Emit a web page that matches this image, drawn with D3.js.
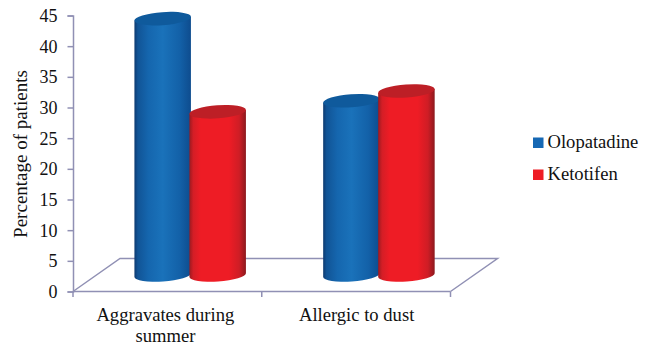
<!DOCTYPE html>
<html>
<head>
<meta charset="utf-8">
<script src="https://cdn.jsdelivr.net/npm/d3@7"></script>
<style>
  html, body { margin: 0; padding: 0; background: #fff; }
  text { font-family: "Liberation Serif", "Times New Roman", serif; fill: #111; }
</style>
</head>
<body>
<div id="chart"></div>
<script>
const categories = ['Aggravates during summer', 'Allergic to dust'];
const seriesNames = ['Olopatadine', 'Ketotifen'];
const olopatadine = [41.8, 28.4];
const ketotifen = [26.6, 30.0];
const yTicks = [0, 5, 10, 15, 20, 25, 30, 35, 40, 45];

const WIDTH = 652, HEIGHT = 348;
const AXIS = { left: 73, right: 450.5, top: 15.5, bottom: 291.5 };
const DEPTH_X = 47, DEPTH_Y = 33;   // floor offset of the back edge
const CYL_W = 56.5, CYL_GAP = 55, CYL_RY = 6.5, TILT = 4 * Math.PI / 180;
const AXIS_COLOR = '#9090b4';

const svg = d3.select('#chart').append('svg')
  .attr('width', WIDTH)
  .attr('height', HEIGHT)
  .style('display', 'block');

const defs = svg.append('defs');
function addGradient(id, stops) {
  const g = defs.append('linearGradient').attr('id', id);
  stops.forEach(s => g.append('stop').attr('offset', s[0]).attr('stop-color', s[1]));
}
addGradient('grad-0', [[0, '#0d3a70'], [0.06, '#115496'], [0.25, '#1566ae'], [0.5, '#1a72ba'], [0.8, '#1361a8'], [1, '#0e4c8e']]);
addGradient('grad-1', [[0, '#9c1a20'], [0.07, '#d41e26'], [0.2, '#ee1c25'], [0.7, '#ee1c25'], [0.88, '#cf1d25'], [1, '#8c191e']]);
const topColors = ['#0f5a9c', '#bd1f26'];
const legendColors = ['#1668b4', '#ee1c25'];

const x0 = d3.scaleBand().domain(categories).range([AXIS.left, AXIS.right]);
const x1 = d3.scaleBand().domain(seriesNames).range([-CYL_GAP, CYL_GAP]);
const y = d3.scaleLinear().domain([0, 45]).range([AXIS.bottom, AXIS.top]);

// floor
svg.append('path')
  .attr('d', `M${AXIS.left},${AXIS.bottom} L${AXIS.left + DEPTH_X},${AXIS.bottom - DEPTH_Y} L${AXIS.right + DEPTH_X},${AXIS.bottom - DEPTH_Y} L${AXIS.right},${AXIS.bottom}`)
  .attr('fill', 'none')
  .attr('stroke', AXIS_COLOR)
  .attr('stroke-width', 1.5);

// axes
const yAxis = d3.axisLeft(y).tickValues(yTicks).tickSize(5.5).tickPadding(10);
const yG = svg.append('g').attr('transform', `translate(${AXIS.left},0)`).call(yAxis);
yG.selectAll('text').style('font-size', '18px').attr('dy', '0.34em');

const xG = svg.append('g').attr('transform', `translate(0,${AXIS.bottom})`);
xG.append('line')
  .attr('x1', AXIS.left).attr('x2', AXIS.right)
  .attr('stroke', AXIS_COLOR);
xG.selectAll('.cat-tick')
  .data([AXIS.left, x0(categories[1]), AXIS.right])
  .enter().append('line')
  .attr('class', 'cat-tick')
  .attr('x1', d => d).attr('x2', d => d)
  .attr('y1', 0).attr('y2', 5.5)
  .attr('stroke', AXIS_COLOR);

svg.selectAll('.domain, .tick line').attr('stroke', AXIS_COLOR).attr('stroke-width', 1.5);
xG.selectAll('line').attr('stroke-width', 1.5);

// cylinders
function cylinderBody(cx, yTop, yBase) {
  const dx = CYL_W / 2;
  const dy = Math.tan(TILT) * dx;
  return `M${cx - dx},${yTop + dy} L${cx - dx},${yBase + dy}`
    + ` A${dx},${CYL_RY} ${-TILT * 180 / Math.PI} 0 0 ${cx + dx},${yBase - dy}`
    + ` L${cx + dx},${yTop - dy} Z`;
}
function cylinderTop(cx, yTop) {
  const dx = CYL_W / 2;
  const dy = Math.tan(TILT) * dx;
  return `M${cx - dx},${yTop + dy}`
    + ` A${dx},${CYL_RY} ${-TILT * 180 / Math.PI} 1 1 ${cx + dx},${yTop - dy}`
    + ` A${dx},${CYL_RY} ${-TILT * 180 / Math.PI} 1 1 ${cx - dx},${yTop + dy} Z`;
}

const floorShift = { x: DEPTH_X / 2 - 0.7, y: -DEPTH_Y / 2 };
[olopatadine, ketotifen].forEach((values, s) => {
  values.forEach((v, i) => {
    const cx = x0(categories[i]) + x0.bandwidth() / 2 + x1(seriesNames[s]) + x1.bandwidth() / 2 + floorShift.x;
    const yTop = y(v) + floorShift.y;
    const yBase = y(0) + floorShift.y;
    svg.append('path').attr('d', cylinderBody(cx, yTop, yBase)).attr('fill', `url(#grad-${s})`);
    svg.append('path').attr('d', cylinderTop(cx, yTop)).attr('fill', topColors[s]);
  });
});

// category labels
const catLines = [['Aggravates during', 'summer'], ['Allergic to dust']];
categories.forEach((c, i) => {
  const lx = x0(c) + x0.bandwidth() / 2 - (i === 0 ? 2 : -0.5);
  const t = svg.append('text')
    .attr('x', lx)
    .attr('y', 321)
    .attr('text-anchor', 'middle')
    .style('font-size', '18.6px');
  catLines[i].forEach((line, j) => {
    t.append('tspan')
      .attr('x', lx)
      .attr('dy', j === 0 ? 0 : 21)
      .text(line);
  });
});

// y title
svg.append('text')
  .attr('transform', 'translate(27,154) rotate(-90)')
  .attr('text-anchor', 'middle')
  .style('font-size', '19px')
  .text('Percentage of patients');

// legend
seriesNames.forEach((name, s) => {
  const g = svg.append('g').attr('transform', `translate(533,${137.5 + s * 32})`);
  g.append('rect').attr('width', 10.5).attr('height', 10.5).attr('fill', legendColors[s]);
  g.append('text').attr('x', 14.5).attr('y', 10.8).style('font-size', '18.6px').text(name);
});
</script>
</body>
</html>
